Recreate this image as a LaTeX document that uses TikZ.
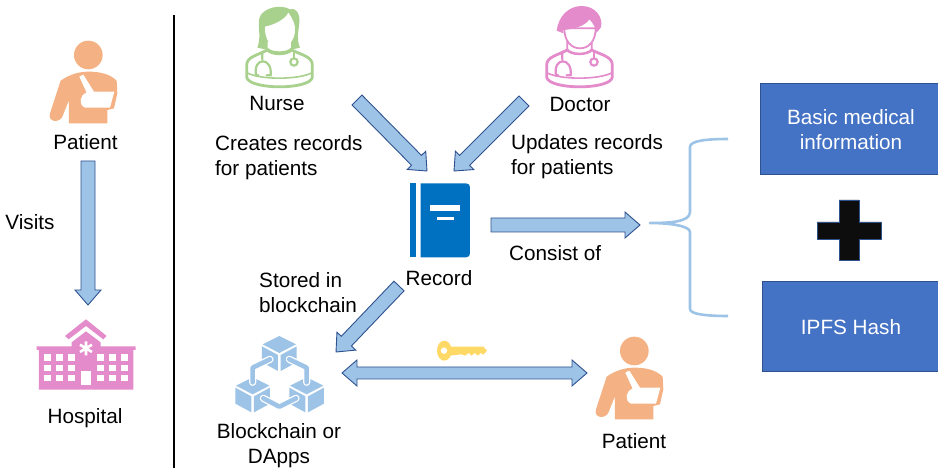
\documentclass[tikz,border=0pt]{standalone}
\usepackage{fontspec}
\setmainfont{Liberation Sans}
\usetikzlibrary{calc}
\definecolor{skyb}{HTML}{9DC3E6}
\definecolor{edgeb}{HTML}{2F528F}
\definecolor{boxb}{HTML}{4472C4}
\definecolor{peach}{HTML}{F4B183}
\definecolor{orchid}{HTML}{E38BCB}
\definecolor{leaf}{HTML}{A9D18E}
\definecolor{bookb}{HTML}{0070C0}
\definecolor{keyy}{HTML}{FFD966}
\tikzset{
  lbl/.style={font=\fontsize{20.7}{25}\selectfont,text=black,inner sep=0pt,anchor=base},
  lblw/.style={lbl,anchor=base west,align=left},
  lblc/.style={lbl,align=center},
  infobox/.style={draw=edgeb,line width=0.8pt,fill=boxb,text=white,align=center,inner sep=0pt},
  blockarrow/.style={draw=edgeb,line width=0.9pt,fill=skyb,line join=miter},
  zoomed/.style={x=0.3333pt,y=-0.3333pt}
}
% single block arrow between two named coordinates
\newcommand{\blockarr}[2]{%
  \fill[blockarrow]
    ($(#1)!7pt!90:(#2)$) -- ($($(#2)!15pt!(#1)$)!7pt!-90:(#1)$)
    -- ($($(#2)!15pt!(#1)$)!13pt!-90:(#1)$) -- (#2)
    -- ($($(#2)!15pt!(#1)$)!13pt!90:(#1)$) -- ($($(#2)!15pt!(#1)$)!7pt!90:(#1)$)
    -- ($(#1)!7pt!-90:(#2)$) -- cycle;}
\newcommand{\patienticon}{%
  \fill[peach] (205,75) circle[x radius=43,y radius=43];
  \fill[peach] (122,152) .. controls (150,132) and (180,125) .. (205,125)
    .. controls (240,125) and (270,132) .. (290,152) -- (292,190) -- (282,235)
    -- (262,240) -- (262,280) -- (147,280) -- (147,210) -- (128,258)
    .. controls (120,280) and (82,278) .. (90,250) -- cycle;
  \fill[white] (178,140) -- (190,134) -- (222,185) -- (283,185) -- (270,233)
    -- (195,233) .. controls (175,225) and (178,195) .. (200,188) -- cycle;}
\newcommand{\medbody}[1]{%
  \draw[#1,line width=2.8pt,line join=round,fill=white]
    (50,232) -- (50,195) .. controls (50,170) and (85,165) .. (112,150)
    .. controls (125,165) and (170,165) .. (185,150)
    .. controls (215,165) and (247,170) .. (247,195) -- (247,232)
    .. controls (240,270) and (58,270) .. (50,232) -- cycle;
  \draw[#1,line width=1.6pt] (50,218) .. controls (90,240) and (205,240) .. (247,218);
  \draw[#1,line width=2.2pt,line cap=round] (97,155) -- (97,178)
     (85,226) -- (78,226) .. controls (68,170) and (128,170) .. (122,226) -- (110,226);
  \draw[#1,line width=1.6pt] (192,152) -- (192,175);
  \draw[#1,line width=2.2pt,fill=white] (192,186) circle[x radius=11,y radius=11];}
\begin{document}
\begin{tikzpicture}[x=1pt,y=-1pt]
\useasboundingbox (0,0) rectangle (938,470);

% divider
\coordinate (divtop) at (174,15);
\coordinate (divbot) at (174,468);
\draw[black,line width=1.8pt] (divtop) -- (divbot);

% left patient
\begin{scope}[shift={(20,30)},zoomed]\patienticon\end{scope}
% right patient
\begin{scope}[shift={(566,326)},zoomed]\patienticon\end{scope}

% hospital
\begin{scope}[shift={(20,300)},zoomed]
  \fill[orchid] (135,108) -- (198,58) -- (260,108) -- (250,118) -- (198,78) -- (146,118) -- cycle;
  \fill[orchid] (50,139) -- (155,139) -- (155,127) -- (198,94) -- (242,127) -- (242,139)
     -- (347,139) -- (347,150) -- (340,150) -- (340,269) -- (57,269) -- (57,150) -- (50,150) -- cycle;
  \foreach \cx in {72,108,144,231,267,303}
    \foreach \cy in {163,194,225}
      \fill[white] (\cx,\cy) rectangle ++(22,19);
  \fill[white] (184,213) rectangle (212,256);
  \draw[white,line width=2.6pt] (198,124) -- (198,166) (180,134) -- (216,156) (180,156) -- (216,134);
\end{scope}

% nurse
\begin{scope}[shift={(230,0)},zoomed]
  \medbody{leaf}
  \fill[leaf] (82,143) .. controls (95,110) and (82,75) .. (88,55)
    .. controls (95,25) and (150,10) .. (180,28) .. controls (195,20) and (212,40) .. (208,70)
    .. controls (204,100) and (200,120) .. (210,143) -- (180,150) -- (115,150) -- cycle;
  \fill[white] (113,125) -- (113,148) .. controls (125,158) and (172,158) .. (183,148) -- (183,125) -- cycle;
  \draw[leaf,line width=1.6pt] (113,146) .. controls (125,160) and (172,160) .. (183,146);
  \fill[white] (105,80) .. controls (130,75) and (165,60) .. (175,38)
    .. controls (190,60) and (197,75) .. (195,95) .. controls (192,125) and (170,145) .. (150,145)
    .. controls (125,145) and (103,120) .. (105,80) -- cycle;
\end{scope}

% doctor
\begin{scope}[shift={(530,0)},zoomed]
  \medbody{orchid}
  \draw[orchid,line width=1.8pt,fill=white] (112,120) -- (112,148) .. controls (125,165) and (172,165) .. (185,148) -- (185,120);
  \fill[white,draw=orchid,line width=1.8pt] (103,85) .. controls (103,125) and (125,145) .. (150,145)
    .. controls (175,145) and (197,125) .. (197,85) -- cycle;
  \fill[orchid] (80,92) .. controls (85,50) and (115,18) .. (155,18)
    .. controls (195,18) and (220,50) .. (213,82) -- (200,98)
    .. controls (195,80) and (190,70) .. (178,58)
    .. controls (165,80) and (125,88) .. (100,90) -- (100,100) -- cycle;
\end{scope}

% record book
\begin{scope}[shift={(390,170)},zoomed]
  \fill[bookb] (60,40) rectangle (79,262);
  \fill[bookb] (92,40) -- (228,40) .. controls (236,40) and (240,45) .. (240,52) -- (240,250)
     .. controls (240,257) and (236,262) .. (228,262) -- (92,262) -- cycle;
  \fill[white] (120,105) rectangle (211,122);
  \fill[white] (141,140) rectangle (192,151);
\end{scope}

% blockchain
\begin{scope}[shift={(220,325)},zoomed]
  \foreach \cx/\cy in {178/33,98/157,260/157}{
    \fill[skyb] (\cx,\cy) -- (\cx+50,\cy+25) -- (\cx,\cy+51) -- (\cx-50,\cy+25) -- cycle;
    \fill[skyb] (\cx-52,\cy+31) -- (\cx-4,\cy+57) -- (\cx-4,\cy+105) -- (\cx-52,\cy+79) -- cycle;
    \fill[skyb] (\cx+52,\cy+31) -- (\cx+4,\cy+57) -- (\cx+4,\cy+105) -- (\cx+52,\cy+79) -- cycle;
  }
  \foreach \ax/\ay/\bx/\by/\cx/\cy in {150/103/98/128/98/172,208/103/260/128/260/172,130/220/178/245/228/220}{
    \draw[white,line width=7.2pt,line join=round,line cap=round] (\ax,\ay) -- (\bx,\by) -- (\cx,\cy);
    \draw[skyb,line width=4.6pt,line join=round,line cap=round] (\ax,\ay) -- (\bx,\by) -- (\cx,\cy);
  }
\end{scope}

% key
\begin{scope}[shift={(420,325)},zoomed]
  \fill[keyy,even odd rule] (73,77) circle[x radius=22,y radius=30] (72,77) circle[x radius=10,y radius=10];
  \fill[keyy] (88,65) -- (190,65) -- (201,77) -- (190,89) -- (182,84) -- (174,92) -- (164,84) -- (155,92) -- (146,84) -- (135,92) -- (125,88) -- (88,92) -- cycle;
\end{scope}

% brace
\coordinate (brtop) at (728,139);
\coordinate (brmid) at (650,223);
\coordinate (brbot) at (728,316);
\draw[skyb,line width=2.6pt,line join=round] (brtop)
   .. controls (705,139) and (690,141) .. (690,147)
   -- (690,212) .. controls (690,222) and (670,223) .. (brmid)
   .. controls (670,223) and (690,226) .. (690,232)
   -- (690,309) .. controls (690,314) and (705,316) .. (brbot);

% boxes
\node[infobox,minimum width=190pt,minimum height=91pt] (basic) at (855,128.5) {};
\node[infobox,minimum width=188pt,minimum height=90pt] (ipfs) at (856,326) {};
\node[lblc,text=white] (basictext) at (851,150) {Basic medical\\information};
\node[lblc,text=white] (ipfstext) at (851,335) {IPFS Hash};

% plus
\fill[fill=black!95,draw=edgeb,line width=0.8pt]
  (839,200) -- (859,200) -- (859,222) -- (881,222) -- (881,239) -- (859,239) -- (859,260)
  -- (839,260) -- (839,239) -- (817,239) -- (817,222) -- (839,222) -- cycle;

% labels
\node[lblc] (patient1) at (85.5,150) {Patient};
\node[lblc] (visits) at (30,230) {Visits};
\node[lblc] (hospital) at (85,424) {Hospital};
\node[lblc] (nurse) at (277,111) {Nurse};
\node[lblc] (doctor) at (580,112) {Doctor};
\node[lblw] (creates) at (215,176) {Creates records\\for patients};
\node[lblw] (updates) at (511,175) {Updates records\\for patients};
\node[lblc] (record) at (439,286) {Record};
\node[lblw] (consist) at (509,261) {Consist of};
\node[lblw] (stored) at (259,313) {Stored in\\blockchain};
\node[lblc] (bc) at (279,464) {Blockchain or\\DApps};
\node[lblc] (patient2) at (634,449) {Patient};

% arrows
\coordinate (a1s) at (88,161); \coordinate (a1e) at (88,305);
\coordinate (a2s) at (357,100); \coordinate (a2e) at (427,171);
\coordinate (a3s) at (524,101); \coordinate (a3e) at (454,171);
\coordinate (a4s) at (491,225); \coordinate (a4e) at (640,225);
\coordinate (a5s) at (399,286); \coordinate (a5e) at (336,352);
\coordinate (a6s) at (342,373); \coordinate (a6e) at (587,373);
\blockarr{a1s}{a1e}
\blockarr{a2s}{a2e}
\blockarr{a3s}{a3e}
\blockarr{a4s}{a4e}
\blockarr{a5s}{a5e}
\fill[blockarrow] (a6s) -- (357,360) -- (357,367) -- (572,367) -- (572,360) -- (a6e) -- (572,386) -- (572,379) -- (357,379) -- (357,386) -- cycle;
\end{tikzpicture}
\end{document}
